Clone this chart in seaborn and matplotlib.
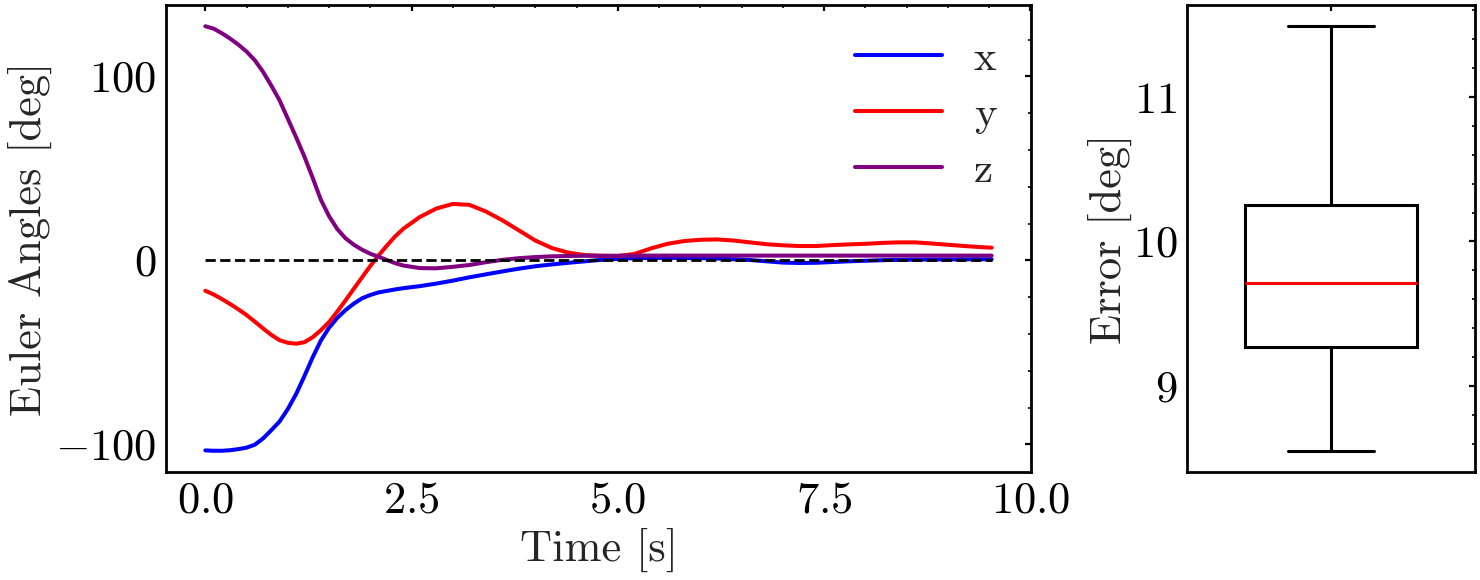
import matplotlib
matplotlib.use("Agg")
import matplotlib.pyplot as plt
from matplotlib.ticker import AutoMinorLocator, MultipleLocator
import seaborn as sns
import pandas as pd

# time samples [s]
time = [0.0, 0.1, 0.2, 0.3, 0.4, 0.5, 0.6, 0.7, 0.8, 0.9,
        1.0, 1.1, 1.2, 1.3, 1.4, 1.5, 1.6, 1.7, 1.8, 1.9,
        2.0, 2.1, 2.2, 2.3, 2.4, 2.6, 2.8, 3.0, 3.2, 3.4,
        3.6, 3.8, 4.0, 4.2, 4.4, 4.6, 4.8, 5.0, 5.2, 5.4,
        5.6, 5.8, 6.0, 6.2, 6.4, 6.6, 6.8, 7.0, 7.2, 7.4,
        7.6, 7.8, 8.0, 8.2, 8.4, 8.6, 8.8, 9.0, 9.2, 9.4,
        9.53]

# euler angles [deg]
angle_x = [-103.3, -103.5, -103.5, -103.2, -102.6, -101.8, -100.2, -96.8, -92.3, -87.6,
           -80.8, -72.7, -63.0, -52.8, -43.6, -36.6, -31.2, -27.0, -23.5, -20.6,
           -18.8, -17.4, -16.6, -15.8, -15.1, -14.0, -12.6, -11.0, -9.2, -7.6,
           -6.0, -4.5, -3.2, -2.2, -1.3, -0.5, 0.3, 0.8, 1.2, 1.3,
           1.4, 1.3, 1.2, 1.0, 0.6, 0.2, -0.5, -1.2, -1.4, -1.3,
           -0.9, -0.5, -0.2, 0.1, 0.3, 0.4, 0.5, 0.5, 0.6, 0.6,
           0.6]
angle_y = [-16.5, -18.5, -21.0, -23.7, -26.6, -29.7, -33.3, -37.0, -40.5, -43.4,
           -44.8, -45.3, -44.5, -41.8, -38.0, -33.5, -27.8, -21.7, -15.4, -9.2,
           -3.0, 2.7, 8.0, 13.0, 17.2, 23.6, 28.2, 30.7, 30.2, 26.6,
           21.8, 16.3, 10.8, 6.7, 4.2, 2.9, 2.5, 2.4, 3.5, 6.5,
           9.0, 10.5, 11.2, 11.4, 10.8, 9.8, 8.8, 8.2, 7.8, 7.8,
           8.3, 8.7, 9.0, 9.5, 9.8, 9.8, 9.2, 8.5, 7.8, 7.2,
           6.9]
angle_z = [127.3, 126.0, 123.5, 120.6, 117.3, 113.5, 108.8, 102.5, 95.0, 87.0,
           77.0, 67.0, 56.5, 45.0, 33.0, 24.0, 17.0, 12.0, 8.5, 5.8,
           3.6, 2.0, 0.2, -1.5, -2.8, -4.2, -4.3, -3.5, -2.5, -1.0,
           0.3, 1.2, 1.8, 2.2, 2.4, 2.5, 2.5, 2.5, 2.6, 2.6,
           2.6, 2.6, 2.6, 2.6, 2.6, 2.6, 2.6, 2.6, 2.6, 2.6,
           2.6, 2.6, 2.6, 2.6, 2.6, 2.6, 2.6, 2.6, 2.6, 2.6,
           2.6]

# error summary values [deg] (min, q1, median, q3, max)
errors = [8.55, 9.27, 9.71, 10.25, 11.49]

colors = {"x": "#0000ff", "y": "#ff0000", "z": "#800080"}

sns.set_style("white")
plt.rcParams.update({
    "font.family": "serif",
    "font.serif": ["cmr10"],
    "mathtext.fontset": "cm",
    "axes.formatter.use_mathtext": True,
    "font.size": 32,
    "axes.linewidth": 2.0,
    "axes.edgecolor": "black",
    "xtick.direction": "in",
    "ytick.direction": "in",
    "xtick.top": True,
    "ytick.right": True,
    "xtick.major.size": 4,
    "ytick.major.size": 4,
    "xtick.minor.size": 2.2,
    "ytick.minor.size": 2.2,
    "xtick.major.width": 1.6,
    "ytick.major.width": 1.6,
    "xtick.minor.width": 1.2,
    "ytick.minor.width": 1.2,
    "xtick.major.pad": 7,
    "ytick.major.pad": 7,
    "xtick.color": "black",
    "ytick.color": "black",
})

df = pd.DataFrame({
    "time": time * 3,
    "angle": angle_x + angle_y + angle_z,
    "axis": ["x"] * len(time) + ["y"] * len(time) + ["z"] * len(time),
})

fig = plt.figure(figsize=(14.8, 5.8), dpi=100)
ax1 = fig.add_axes([166 / 1480, 1 - 472 / 580, 865 / 1480, 467 / 580])
ax2 = fig.add_axes([1187 / 1480, 1 - 472 / 580, 288 / 1480, 467 / 580])

sns.lineplot(data=df, x="time", y="angle", hue="axis", palette=colors,
             linewidth=2.9, ax=ax1)
ax1.plot([time[0], time[-1]], [0, 0], color="black", linestyle="--",
         linewidth=2.0, label="_nolegend_", zorder=5)

handles, labels = ax1.get_legend_handles_labels()
ax1.legend(handles, labels, loc="upper right", frameon=False, fontsize=31,
           handlelength=2.0, handletextpad=0.75, labelspacing=0.42,
           borderaxespad=0.4)

ax1.set_xlabel("Time [s]")
ax1.set_ylabel("Euler Angles [deg]")
ax1.yaxis.set_label_coords(-0.132, 0.5)
ax1.xaxis.set_major_locator(MultipleLocator(2.5))
ax1.yaxis.set_major_locator(MultipleLocator(100))
ax1.xaxis.set_minor_locator(AutoMinorLocator(5))
ax1.yaxis.set_minor_locator(AutoMinorLocator(5))

sns.boxplot(y=errors, ax=ax2, width=0.6, whis=3.0, color="white",
            linewidth=2.2,
            boxprops={"edgecolor": "black", "facecolor": "white"},
            whiskerprops={"color": "black"},
            capprops={"color": "black"},
            medianprops={"color": "red"})
ax2.set_ylabel("Error [deg]")
ax2.yaxis.set_label_coords(-0.19, 0.5)
ax2.set_xticks([0])
ax2.set_xticklabels([""])
ax2.yaxis.set_major_locator(MultipleLocator(1))
ax2.yaxis.set_minor_locator(AutoMinorLocator(5))

for ax in (ax1, ax2):
    for spine in ax.spines.values():
        spine.set_visible(True)
        spine.set_color("black")
        spine.set_linewidth(2.0)
    ax.tick_params(which="both", direction="in", top=True, right=True)

fig.savefig("out.png", dpi=100)
